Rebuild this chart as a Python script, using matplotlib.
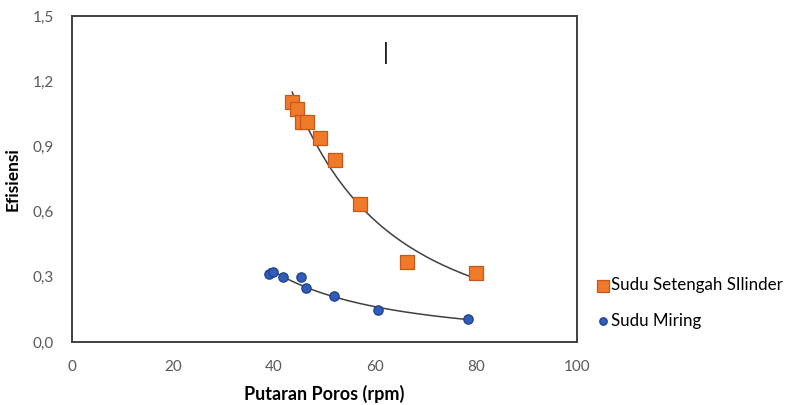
import numpy as np
import matplotlib
matplotlib.use("Agg")
from matplotlib import pyplot as plt
from matplotlib.ticker import FuncFormatter

# Sudu Setengah Silinder
rpm_setengah = [43.6, 44.6, 45.5, 46.5, 49.1, 52.1, 57.0, 66.3, 80.0]
eff_setengah = [1.106, 1.074, 1.014, 1.014, 0.940, 0.839, 0.636, 0.369, 0.318]

# Sudu Miring
rpm_miring = [39.1, 39.9, 41.7, 45.3, 46.3, 51.9, 60.5, 78.5]
eff_miring = [0.313, 0.324, 0.301, 0.298, 0.250, 0.212, 0.147, 0.105]

x_ticks = [0, 20, 40, 60, 80, 100]
y_ticks = [0.0, 0.3, 0.6, 0.9, 1.2, 1.5]

plt.rcParams['font.family'] = ['Lato', 'DejaVu Sans']
tick_grey = '#595959'


def power_trend(x, y):
    # excel-style power trendline y = a * x^b
    b, ln_a = np.polyfit(np.log(x), np.log(y), 1)
    xs = np.linspace(min(x), max(x), 200)
    return xs, np.exp(ln_a) * xs ** b


fig = plt.figure(figsize=(7.93, 4.05), dpi=100)
ax = fig.add_axes([0.0908, 0.1556, 0.6368, 0.8049])

xs, ys = power_trend(rpm_setengah, eff_setengah)
ax.plot(xs, ys, color='#404040', lw=1.1, zorder=2)
xs, ys = power_trend(rpm_miring, eff_miring)
ax.plot(xs, ys, color='#404040', lw=1.1, zorder=2)

ax.scatter(rpm_setengah, eff_setengah, marker='s', s=100, color='#EE7A2A',
           edgecolor='#C8581A', linewidth=0.9, zorder=3, label='Sudu Setengah SIlinder')
ax.scatter(rpm_miring, eff_miring, marker='o', s=45, color='#2F5DB8',
           edgecolor='#1E3F8C', linewidth=0.9, zorder=3, label='Sudu Miring')

ax.set_xlim(0, 100)
ax.set_ylim(0, 1.5)
ax.set_xticks(x_ticks)
ax.set_yticks(y_ticks)
ax.yaxis.set_major_formatter(FuncFormatter(lambda v, p: f"{v:.1f}".replace('.', ',')))
ax.tick_params(axis='x', length=0, pad=13, labelsize=11, labelcolor=tick_grey)
ax.tick_params(axis='y', length=0, pad=13, labelsize=11, labelcolor=tick_grey)
for sp in ax.spines.values():
    sp.set_color('#404040')
    sp.set_linewidth(1.4)

ax.set_xlabel('Putaran Poros (rpm)', fontsize=13, fontweight='bold', labelpad=8)
ax.set_ylabel('Efisiensi', fontsize=12.5, fontweight='bold', labelpad=9)

fig.legend(loc='upper left', bbox_to_anchor=(0.731, 0.353), frameon=False,
           fontsize=12.2, handletextpad=0.05, labelspacing=1.15, handlelength=0.9,
           markerscale=0.8)

# stray cursor mark from the original image
fig.text(0.487, 0.87, '|', fontsize=17, ha='center', va='center', color='black')

fig.savefig('out.png', dpi=100)
